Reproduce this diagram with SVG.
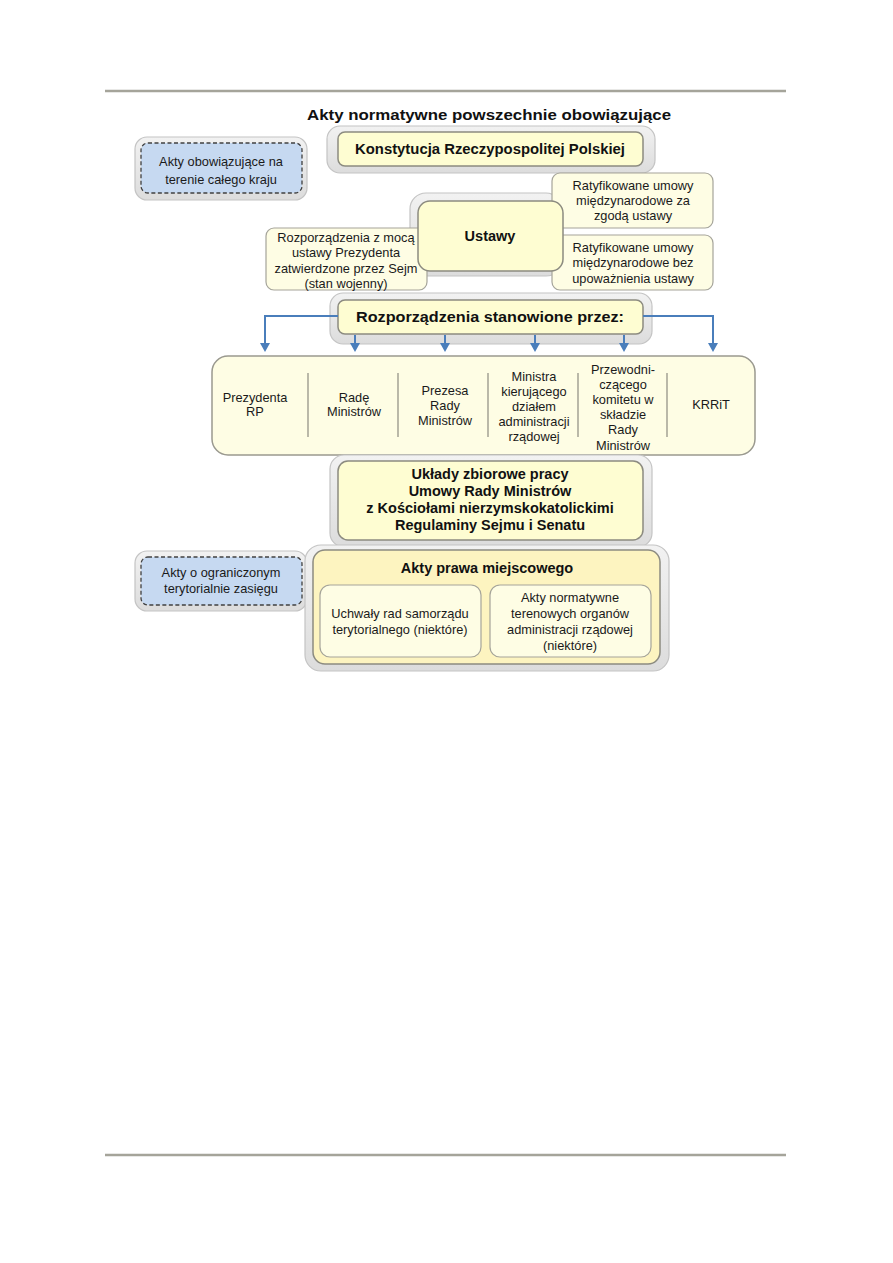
<svg xmlns="http://www.w3.org/2000/svg" width="893" height="1263" viewBox="0 0 893 1263">
<defs>
<linearGradient id="halo" x1="0" y1="0" x2="0" y2="1">
<stop offset="0" stop-color="#f2f2f2"/>
<stop offset="1" stop-color="#dcdcdc"/>
</linearGradient>
</defs>
<style>
.rule{stroke:#a5a49a;stroke-width:2.5}
.halo{fill:url(#halo);stroke:#c4c4c4;stroke-width:1.2}
.box{fill:#fefdd2;stroke:#8c8b80;stroke-width:1.5}
.sbox{fill:#fefde4;stroke:#a5a49a;stroke-width:1.2}
.blue{fill:#c6d9f1;stroke:#404040;stroke-width:1.3;stroke-dasharray:4 2.5}
.t{font-family:"Liberation Sans",Arial,sans-serif;font-size:12.8px;fill:#1a1a1a;text-anchor:middle}
.b{font-family:"Liberation Sans",Arial,sans-serif;font-size:14.5px;font-weight:bold;fill:#111;text-anchor:middle}
.conn{fill:none;stroke:#4a7ebb;stroke-width:2}
.div{stroke:#8c8b80;stroke-width:1.2}
</style>
<rect width="893" height="1263" fill="#ffffff"/>
<line class="rule" x1="105" y1="91" x2="786" y2="91"/>
<line class="rule" x1="105" y1="1155" x2="786" y2="1155"/>
<text class="b" x="489" y="120" font-size="16" textLength="364" lengthAdjust="spacingAndGlyphs">Akty normatywne  powszechnie obowiązujące</text>

<g id="konstytucja">
<rect class="halo" x="327" y="126" width="328" height="47" rx="13"/>
<rect class="box" x="338" y="132" width="305" height="34" rx="7"/>
<text class="b" x="490" y="154" textLength="270" lengthAdjust="spacingAndGlyphs">Konstytucja Rzeczypospolitej Polskiej</text>
</g>

<g id="caly-kraj">
<rect class="halo" x="135" y="137" width="172" height="63" rx="12"/>
<rect class="blue" x="141" y="143" width="161" height="50" rx="7"/>
<text class="t" x="221" y="166" font-size="13.5">Akty obowiązujące na</text>
<text class="t" x="221" y="184" font-size="13.5">terenie całego kraju</text>
</g>

<g id="ustawy-halo">
<rect class="halo" x="410" y="193" width="152" height="83" rx="16"/>
</g>

<g id="rozp-z-moca">
<rect class="sbox" x="266" y="228" width="161" height="62" rx="8"/>
<text class="t" x="346" y="242">Rozporządzenia z mocą</text>
<text class="t" x="346" y="257">ustawy Prezydenta</text>
<text class="t" x="346" y="273">zatwierdzone przez Sejm</text>
<text class="t" x="346" y="288">(stan wojenny)</text>
</g>

<g id="umowy-za-zgoda">
<rect class="sbox" x="552" y="173" width="161" height="55" rx="8"/>
<text class="t" x="633" y="190">Ratyfikowane umowy</text>
<text class="t" x="633" y="205">międzynarodowe za</text>
<text class="t" x="633" y="220">zgodą ustawy</text>
</g>

<g id="umowy-bez">
<rect class="sbox" x="552" y="235" width="161" height="55" rx="8"/>
<text class="t" x="633" y="252">Ratyfikowane umowy</text>
<text class="t" x="633" y="267">międzynarodowe bez</text>
<text class="t" x="633" y="283">upoważnienia ustawy</text>
</g>

<g id="ustawy">
<rect class="box" x="418" y="201" width="145" height="70" rx="12"/>
<text class="b" x="490" y="241" font-size="15.5">Ustawy</text>
</g>

<g id="rozporzadzenia">
<rect class="halo" x="330" y="293" width="322" height="51" rx="13"/>
<rect class="box" x="338" y="300" width="305" height="34" rx="7"/>
<text class="b" x="490" y="322" textLength="268" lengthAdjust="spacingAndGlyphs">Rozporządzenia stanowione przez:</text>
</g>

<g id="connectors">
<path class="conn" d="M338,316 H265 V344"/>
<path class="conn" d="M643,316 H713 V344"/>
<path class="conn" d="M355,335 V344"/>
<path class="conn" d="M445,335 V344"/>
<path class="conn" d="M535,335 V344"/>
<path class="conn" d="M624,335 V344"/>
<path d="M260,343 h10 l-5,9 z M350,343 h10 l-5,9 z M440,343 h10 l-5,9 z M530,343 h10 l-5,9 z M619,343 h10 l-5,9 z M708,343 h10 l-5,9 z" fill="#4a7ebb"/>
</g>

<g id="organy">
<rect class="sbox" x="212" y="356" width="543" height="99" rx="16" style="stroke:#9a998f;stroke-width:1.5"/>
<line class="div" x1="308" y1="373" x2="308" y2="437"/>
<line class="div" x1="398" y1="373" x2="398" y2="437"/>
<line class="div" x1="488" y1="373" x2="488" y2="437"/>
<line class="div" x1="578" y1="373" x2="578" y2="437"/>
<line class="div" x1="667" y1="373" x2="667" y2="437"/>
<text class="t" x="255" y="402">Prezydenta</text>
<text class="t" x="255" y="416">RP</text>
<text class="t" x="354" y="402">Radę</text>
<text class="t" x="354" y="416">Ministrów</text>
<text class="t" x="445" y="395">Prezesa</text>
<text class="t" x="445" y="410">Rady</text>
<text class="t" x="445" y="425">Ministrów</text>
<text class="t" x="534" y="381">Ministra</text>
<text class="t" x="534" y="396">kierującego</text>
<text class="t" x="534" y="411">działem</text>
<text class="t" x="534" y="426">administracji</text>
<text class="t" x="534" y="441">rządowej</text>
<text class="t" x="623" y="374">Przewodni-</text>
<text class="t" x="623" y="389">czącego</text>
<text class="t" x="623" y="404">komitetu w</text>
<text class="t" x="623" y="419">składzie</text>
<text class="t" x="623" y="434">Rady</text>
<text class="t" x="623" y="450">Ministrów</text>
<text class="t" x="711" y="409">KRRiT</text>
</g>

<g id="uklady">
<rect class="halo" x="330" y="455" width="322" height="92" rx="14"/>
<rect class="box" x="338" y="461" width="305" height="79" rx="10"/>
<text class="b" x="490" y="479">Układy zbiorowe pracy</text>
<text class="b" x="490" y="496">Umowy Rady Ministrów</text>
<text class="b" x="490" y="513">z Kościołami  nierzymskokatolickimi</text>
<text class="b" x="490" y="530">Regulaminy Sejmu i Senatu</text>
</g>

<g id="ograniczony">
<rect class="halo" x="135" y="551" width="172" height="60" rx="12"/>
<rect class="blue" x="141" y="557" width="161" height="48" rx="7"/>
<text class="t" x="221" y="577" font-size="13.5">Akty o ograniczonym</text>
<text class="t" x="221" y="593" font-size="13.5">terytorialnie zasięgu</text>
</g>

<g id="miejscowe">
<rect class="halo" x="305" y="545" width="364" height="126" rx="16"/>
<rect class="box" x="313" y="550" width="347" height="114" rx="12" style="fill:#fdf4c0"/>
<text class="b" x="487" y="573" font-size="15">Akty prawa miejscowego</text>
<rect class="sbox" x="320" y="585" width="161" height="72" rx="10"/>
<text class="t" x="400" y="618">Uchwały rad samorządu</text>
<text class="t" x="400" y="634">terytorialnego (niektóre)</text>
<rect class="sbox" x="490" y="585" width="161" height="72" rx="10"/>
<text class="t" x="570" y="602">Akty normatywne</text>
<text class="t" x="570" y="618">terenowych organów</text>
<text class="t" x="570" y="634">administracji rządowej</text>
<text class="t" x="570" y="650">(niektóre)</text>
</g>
</svg>
